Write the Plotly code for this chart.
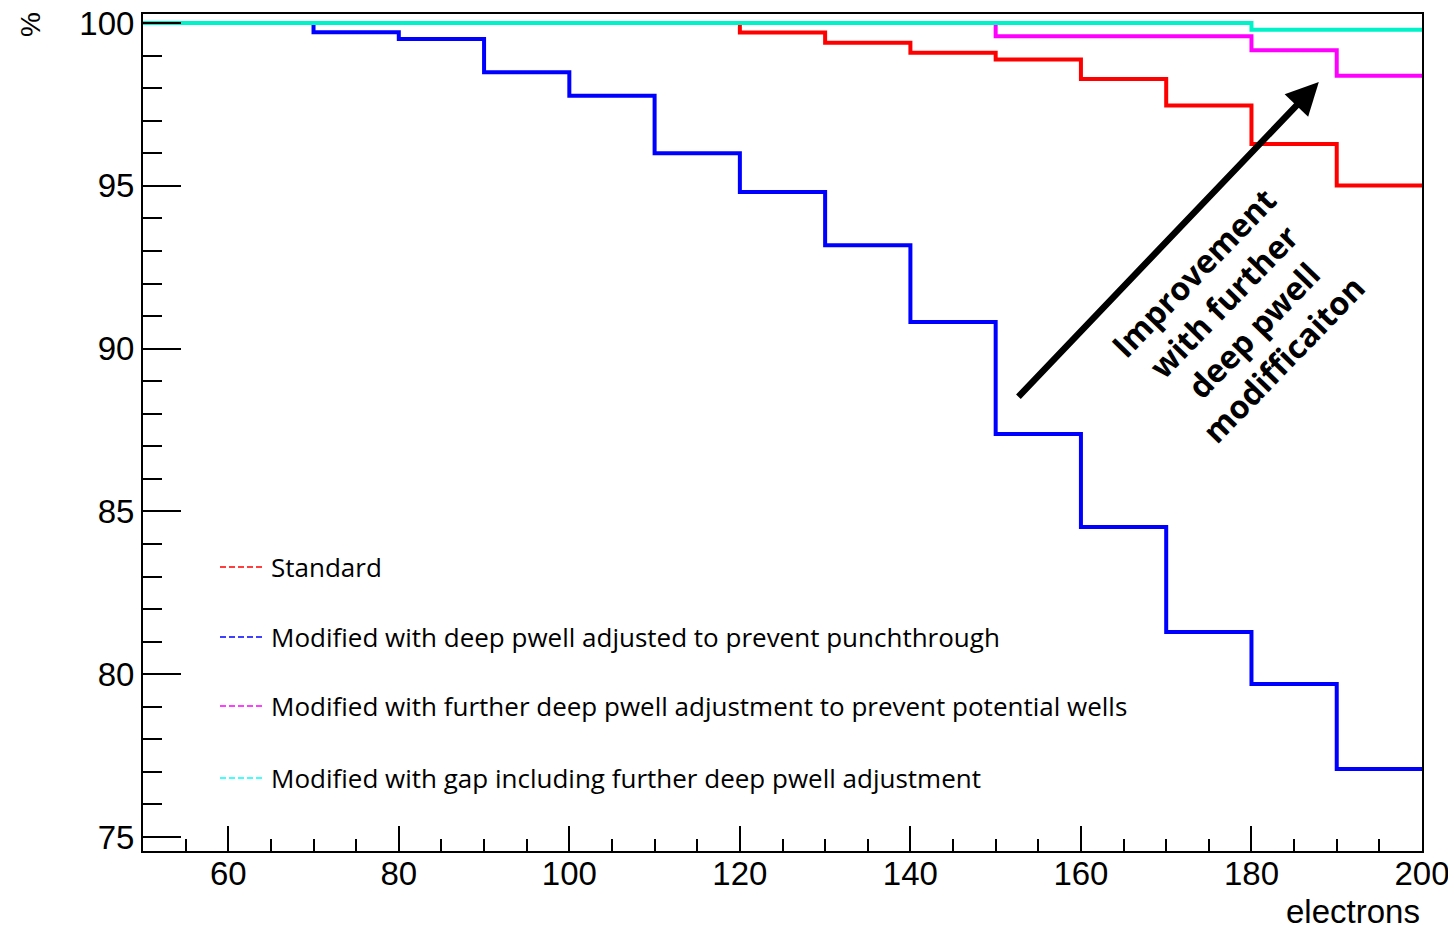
import plotly.graph_objects as go

# ---- data -------------------------------------------------------------
bin_edges = [50, 60, 70, 80, 90, 100, 110, 120, 130, 140, 150, 160, 170, 180, 190, 200]

standard = [100, 100, 100, 100, 100, 100, 100, 99.71, 99.40, 99.09, 98.88, 98.28, 97.47, 96.29, 95.01]
deep_pwell = [100, 100, 99.72, 99.51, 98.49, 97.77, 96.00, 94.81, 93.18, 90.82, 87.38, 84.52, 81.30, 79.70, 77.09]
further_pwell = [100, 100, 100, 100, 100, 100, 100, 100, 100, 100, 99.60, 99.60, 99.60, 99.17, 98.38]
gap_pwell = [100, 100, 100, 100, 100, 100, 100, 100, 100, 100, 100, 100, 100, 99.80, 99.80]

series_names = [
    "Standard",
    "Modified with deep pwell adjusted to prevent punchthrough",
    "Modified with further deep pwell adjustment to prevent potential wells",
    "Modified with gap including further deep pwell adjustment",
]
series_values = [standard, deep_pwell, further_pwell, gap_pwell]
line_colors = ["#ff0000", "#0000ff", "#ff00ff", "#00f2c8"]
legend_colors = ["#ff0000", "#0000ff", "#ff00ff", "#00ffff"]

x_tick_vals = [60, 80, 100, 120, 140, 160, 180, 200]
y_tick_vals = [75, 80, 85, 90, 95, 100]

arrow_tail = (152.5, 88.48)
arrow_tip = (187.9, 98.19)
note_text = "Improvement<br>with further<br>deep pwell<br>modifficaiton"

# ---- layout geometry (pixels) -----------------------------------------
W, H = 1448, 930
L, R, T, B = 143, 26, 14, 79
PW, PH = W - L - R, H - T - B


def px_x(px):
    return (px - L) / PW


def px_y(py):
    return (H - B - py) / PH


fig = go.Figure()
for name, vals, col in zip(series_names, series_values, line_colors):
    fig.add_trace(go.Scatter(
        x=bin_edges,
        y=vals + [vals[-1]],
        mode="lines",
        line=dict(shape="hv", color=col, width=4),
        name=name,
        showlegend=False,
        hoverinfo="skip",
    ))

# arrow
fig.add_annotation(
    x=arrow_tip[0], y=arrow_tip[1], ax=arrow_tail[0], ay=arrow_tail[1],
    xref="x", yref="y", axref="x", ayref="y",
    text="", showarrow=True, arrowhead=2, arrowsize=1.0, arrowwidth=6.5,
    arrowcolor="black",
)
fig.add_annotation(
    x=px_x(1238), y=px_y(316), xref="paper", yref="paper",
    text="<b>" + note_text + "</b>", showarrow=False, textangle=-46,
    font=dict(family="Open Sans", size=32, color="black"), align="center",
    xanchor="center", yanchor="middle",
)

# custom legend
legend_y_px = [567, 637, 706, 778]
for name, col, ypx in zip(series_names, legend_colors, legend_y_px):
    fig.add_shape(
        type="line", xref="paper", yref="paper",
        x0=px_x(220), x1=px_x(263), y0=px_y(ypx), y1=px_y(ypx),
        line=dict(color=col, width=1.5, dash="6px,3px"),
    )
    fig.add_annotation(
        x=px_x(269), y=px_y(ypx), xref="paper", yref="paper",
        text=name, showarrow=False, xanchor="left", yanchor="middle",
        font=dict(family="Open Sans", size=26, color="black"),
    )

# axis titles
fig.add_annotation(
    x=px_x(31), y=px_y(25), xref="paper", yref="paper",
    text="%", showarrow=False, textangle=-90,
    font=dict(family="Liberation Sans", size=28, color="black"),
    xanchor="center", yanchor="middle",
)
fig.add_annotation(
    x=px_x(1422), y=px_y(911), xref="paper", yref="paper",
    text="electrons", showarrow=False, xanchor="right", yanchor="middle",
    font=dict(family="Liberation Sans", size=33, color="black"),
)

fig.update_layout(
    width=W, height=H,
    margin=dict(l=L, r=R, t=T, b=B, autoexpand=False),
    paper_bgcolor="white", plot_bgcolor="white",
    showlegend=False,
    font=dict(family="Liberation Sans", size=33, color="black"),
)
fig.update_xaxes(
    range=[50, 200], tickvals=x_tick_vals, ticks="inside", ticklen=25, tickwidth=2,
    tickcolor="black", showgrid=False, zeroline=False,
    showline=True, linecolor="black", linewidth=2, mirror=True,
    minor=dict(dtick=5, tick0=50, ticks="inside", ticklen=12, tickwidth=2, tickcolor="black", showgrid=False),
    tickfont=dict(family="Liberation Sans", size=33, color="black"),
    ticklabeloverflow="allow", ticklabelstandoff=-8,
)
fig.update_yaxes(
    range=[74.57, 100.28], tickvals=y_tick_vals, ticks="inside", ticklen=38, tickwidth=2,
    tickcolor="black", showgrid=False, zeroline=False,
    showline=True, linecolor="black", linewidth=2, mirror=True,
    minor=dict(dtick=1, tick0=75, ticks="inside", ticklen=19, tickwidth=2, tickcolor="black", showgrid=False),
    tickfont=dict(family="Liberation Sans", size=33, color="black"),
    ticklabeloverflow="allow",
)

fig.write_html("out.html")
